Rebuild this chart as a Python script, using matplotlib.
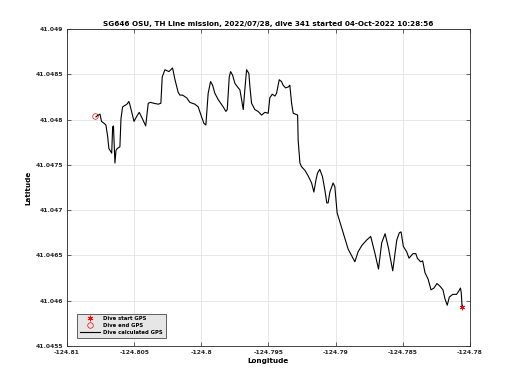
import matplotlib
matplotlib.use("Agg")
import matplotlib.pyplot as plt
from matplotlib.ticker import FixedLocator

# dive calculated GPS track (lon, lat)
lon = [-124.80784, -124.80767, -124.80754, -124.80743, -124.80725, -124.80710, -124.80697, -124.80688,
       -124.80667, -124.80660, -124.80654, -124.80643, -124.80635, -124.80626, -124.80606, -124.80598,
       -124.80586, -124.80554, -124.80539, -124.80531, -124.80516, -124.80501, -124.80479, -124.80462,
       -124.80442, -124.80414, -124.80395, -124.80379, -124.80353, -124.80321, -124.80301, -124.80291,
       -124.80271, -124.80241, -124.80214, -124.80196, -124.80172, -124.80159, -124.80139, -124.80109,
       -124.80085, -124.80048, -124.80023, -124.79998, -124.79981, -124.79966, -124.79949, -124.79931,
       -124.79916, -124.79899, -124.79874, -124.79837, -124.79817, -124.79807, -124.79792, -124.79782,
       -124.79767, -124.79750, -124.79725, -124.79713, -124.79700, -124.79688, -124.79676, -124.79663,
       -124.79646, -124.79638, -124.79626, -124.79601, -124.79577, -124.79551, -124.79527, -124.79502,
       -124.79490, -124.79472, -124.79452, -124.79440, -124.79420, -124.79403, -124.79391, -124.79373,
       -124.79353, -124.79341, -124.79328, -124.79316, -124.79283, -124.79279, -124.79266, -124.79254,
       -124.79229, -124.79205, -124.79179, -124.79162, -124.79147, -124.79135, -124.79118, -124.79098,
       -124.79080, -124.79066, -124.79056, -124.79043, -124.79019, -124.79006, -124.78989, -124.78944,
       -124.78907, -124.78857, -124.78833, -124.78805, -124.78769, -124.78739, -124.78707, -124.78681,
       -124.78657, -124.78632, -124.78608, -124.78575, -124.78545, -124.78526, -124.78513, -124.78496,
       -124.78471, -124.78454, -124.78424, -124.78403, -124.78392, -124.78368, -124.78352, -124.78335,
       -124.78312, -124.78290, -124.78268, -124.78246, -124.78223, -124.78201, -124.78186, -124.78169,
       -124.78154, -124.78129, -124.78100, -124.78082, -124.78071, -124.78065, -124.78059]
lat = [41.04803, 41.04805, 41.04806, 41.04798, 41.04796, 41.04794, 41.04781, 41.04768,
       41.04763, 41.04792, 41.04793, 41.04752, 41.04766, 41.04768, 41.04770, 41.04801,
       41.04814, 41.04817, 41.04820, 41.04816, 41.04807, 41.04798, 41.04804, 41.04808,
       41.04802, 41.04793, 41.04818, 41.04819, 41.04818, 41.04817, 41.04818, 41.04847,
       41.04855, 41.04853, 41.04857, 41.04844, 41.04830, 41.04827, 41.04827, 41.04824,
       41.04819, 41.04817, 41.04814, 41.04803, 41.04796, 41.04794, 41.04829, 41.04842,
       41.04838, 41.04829, 41.04822, 41.04814, 41.04809, 41.04811, 41.04847, 41.04853,
       41.04849, 41.04840, 41.04835, 41.04833, 41.04822, 41.04811, 41.04833, 41.04855,
       41.04851, 41.04836, 41.04818, 41.04811, 41.04809, 41.04805, 41.04808, 41.04807,
       41.04824, 41.04828, 41.04826, 41.04829, 41.04844, 41.04842, 41.04838, 41.04835,
       41.04836, 41.04838, 41.04818, 41.04807, 41.04805, 41.04777, 41.04752, 41.04748,
       41.04744, 41.04738, 41.04730, 41.04720, 41.04733, 41.04741, 41.04745, 41.04737,
       41.04722, 41.04708, 41.04708, 41.04720, 41.04730, 41.04726, 41.04697, 41.04675,
       41.04657, 41.04643, 41.04654, 41.04661, 41.04667, 41.04671, 41.04652, 41.04635,
       41.04664, 41.04674, 41.04659, 41.04633, 41.04667, 41.04675, 41.04676, 41.04660,
       41.04654, 41.04647, 41.04652, 41.04652, 41.04647, 41.04643, 41.04644, 41.04631,
       41.04624, 41.04612, 41.04614, 41.04619, 41.04616, 41.04612, 41.04602, 41.04595,
       41.04604, 41.04607, 41.04607, 41.04611, 41.04614, 41.04609, 41.04594]

start_gps = (-124.78059, 41.04593)
end_gps = (-124.80795, 41.04804)

xticks = [-124.81, -124.805, -124.8, -124.795, -124.79, -124.785, -124.78]
xtick_labels = ["-124.81", "-124.805", "-124.8", "-124.795", "-124.79", "-124.785", "-124.78"]
yticks = [41.0455, 41.046, 41.0465, 41.047, 41.0475, 41.048, 41.0485, 41.049]
ytick_labels = ["41.0455", "41.046", "41.0465", "41.047", "41.0475", "41.048", "41.0485", "41.049"]

title = "SG646 OSU, TH Line mission, 2022/07/28, dive 341 started 04-Oct-2022 10:28:56"

fig = plt.figure(figsize=(5.2, 3.9), dpi=100)
ax = fig.add_axes([0.1288, 0.1128, 0.775, 0.8128])

ax.plot(start_gps[0], start_gps[1], linestyle="none", marker=(6, 2, 0), color="red",
        markersize=4, markeredgewidth=0.6, label="Dive start GPS")
ax.plot(end_gps[0], end_gps[1], linestyle="none", marker="o", markerfacecolor="none",
        markeredgecolor="red", markersize=4, markeredgewidth=0.5, label="Dive end GPS")
ax.plot(lon, lat, color="black", linewidth=0.8, label="Dive calculated GPS")

ax.set_xlim(-124.81, -124.78)
ax.set_ylim(41.0455, 41.049)
ax.xaxis.set_major_locator(FixedLocator(xticks))
ax.yaxis.set_major_locator(FixedLocator(yticks))
ax.set_xticklabels(xtick_labels)
ax.set_yticklabels(ytick_labels)

ax.grid(True, color="#e3e3e3", linewidth=0.6)
ax.set_axisbelow(True)
ax.tick_params(direction="in", length=3, width=0.5, colors="#262626", labelsize=4.3,
               top=True, right=True, pad=3)
for lbl in ax.get_xticklabels() + ax.get_yticklabels():
    lbl.set_fontweight("bold")
for s in ax.spines.values():
    s.set_color("#262626")
    s.set_linewidth(0.6)

ax.set_title(title, fontsize=5.2, fontweight="bold", pad=2)
ax.set_xlabel("Longitude", fontsize=5.2, fontweight="bold", labelpad=2)
ax.set_ylabel("Latitude", fontsize=5.2, fontweight="bold", labelpad=3)

leg = ax.legend(loc="lower left", bbox_to_anchor=(0.018, 0.018),
                frameon=True, fancybox=False, handlelength=3.9, handletextpad=0.6,
                labelspacing=0.35, borderpad=0.5, prop={"size": 3.8, "weight": "bold"})
leg.get_frame().set_facecolor("#e6e6e6")
leg.get_frame().set_edgecolor("#262626")
leg.get_frame().set_linewidth(0.5)
leg.get_frame().set_alpha(1)

fig.savefig("out.png", dpi=100)
